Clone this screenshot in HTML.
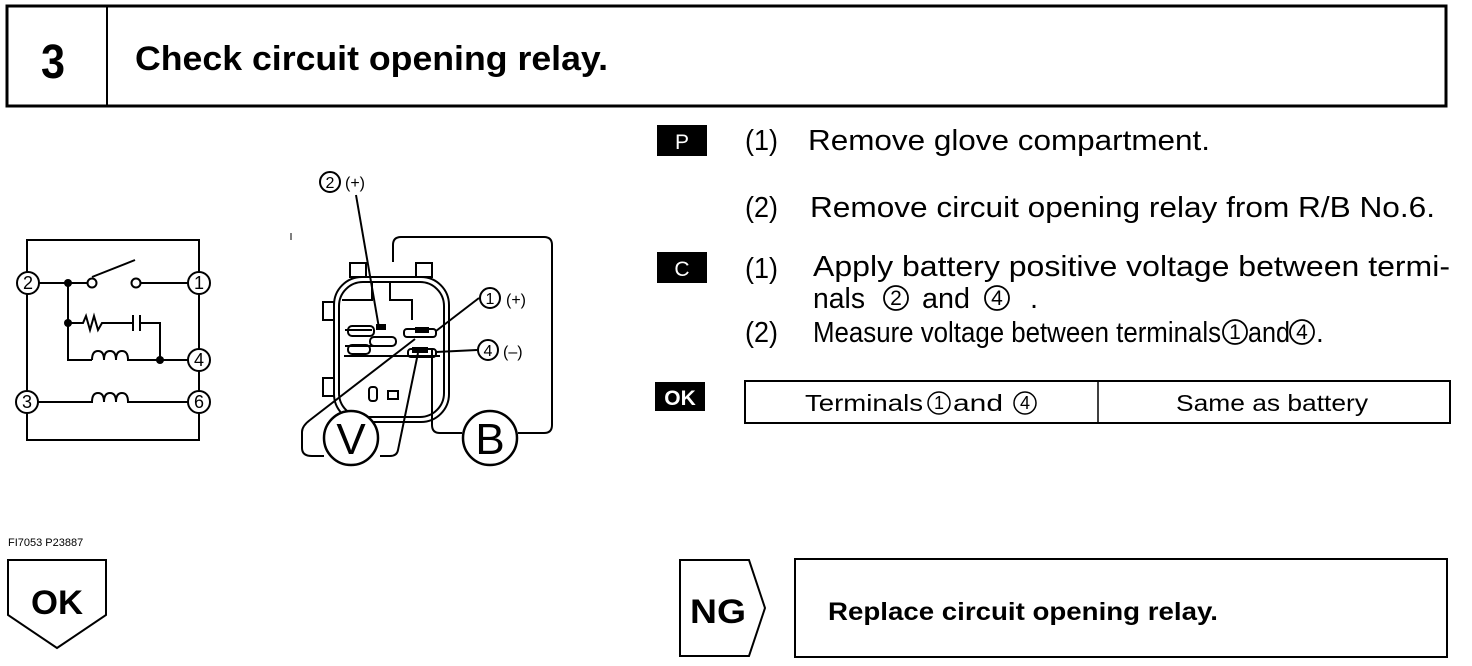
<!DOCTYPE html>
<html><head><meta charset="utf-8"><style>
html,body{margin:0;padding:0;background:#fff;}
svg{display:block;}
text{font-family:"Liberation Sans","Noto Sans CJK JP",sans-serif;fill:#000;}
</style></head><body>
<svg width="1472" height="666" viewBox="0 0 1472 666" xmlns="http://www.w3.org/2000/svg">
<rect x="7" y="6" width="1439" height="100" fill="none" stroke="#000" stroke-width="3"/>
<line x1="107" y1="6" x2="107" y2="106" stroke="#000" stroke-width="2"/>
<text x="53" y="78" font-size="48" font-weight="bold" text-anchor="middle" transform="translate(53 0) scale(0.9 1) translate(-53 0)">3</text>
<text x="135" y="70" font-size="34" font-weight="bold" textLength="473" lengthAdjust="spacingAndGlyphs">Check circuit opening relay.</text>

<g fill="none" stroke="#000" stroke-width="2">
<rect x="27" y="240" width="172" height="200"/>
<path d="M39 283 H88"/>
<circle cx="92" cy="283" r="4.5" fill="#fff"/>
<line x1="92" y1="277" x2="135" y2="260"/>
<circle cx="136" cy="283" r="4.5" fill="#fff"/>
<path d="M141 283 H188"/>
<path d="M68 283 V360 H92"/>
<path d="M68 323 H83 l3 -7 l4 14 l4 -14 l4 14 l4 -7 H132"/>
<path d="M133 315 V331 M140 315 V331"/>
<path d="M140 323 H160 V360"/>
<path d="M92 360 q0 -9 6 -9 q6 0 6 9 q0 -9 6 -9 q6 0 6 9 q0 -9 6 -9 q6 0 6 9 H188"/>
<path d="M38 402 H92 q0 -9 6 -9 q6 0 6 9 q0 -9 6 -9 q6 0 6 9 q0 -9 6 -9 q6 0 6 9 H188"/>
</g>
<circle cx="68" cy="283" r="4" fill="#000"/>
<circle cx="68" cy="323" r="4" fill="#000"/>
<circle cx="160" cy="360" r="4" fill="#000"/>
<g stroke="#000" stroke-width="2" fill="#fff">
<circle cx="28" cy="283" r="11"/><circle cx="199" cy="283" r="11"/>
<circle cx="199" cy="360" r="11"/><circle cx="27" cy="402" r="11"/>
<circle cx="199" cy="402" r="11"/>
</g>
<g font-size="18" text-anchor="middle">
<text x="28" y="289">2</text><text x="199" y="289">1</text>
<text x="199" y="366">4</text><text x="27" y="408">3</text><text x="199" y="408">6</text>
</g>

<g fill="none" stroke="#000" stroke-width="2">
<path d="M393 262 V245 q0 -8 8 -8 H544 q8 0 8 8 V425 q0 8 -8 8 H518"/>
<path d="M462 433 H440 q-8 0 -8 -8 V348"/>
<rect x="334" y="277" width="115" height="145" rx="28"/>
<rect x="339" y="282" width="105" height="135" rx="24"/>
<rect x="350" y="263" width="16" height="14"/><rect x="416" y="263" width="16" height="14"/>
<rect x="323" y="302" width="11" height="18"/><rect x="323" y="378" width="11" height="18"/>
<path d="M342 300 H372 V282 M390 282 V300 H412 V320 M345 330 H372 M345 346 H392 M344 356 H440"/>
<rect x="348" y="326" width="26" height="10" rx="4"/>
<rect x="370" y="337" width="26" height="9" rx="4"/>
<rect x="348" y="345" width="22" height="9" rx="4"/>
<rect x="404" y="329" width="32" height="8" rx="3"/>
<rect x="408" y="349" width="28" height="8" rx="3"/>
<rect x="369" y="387" width="8" height="14" rx="3"/>
<rect x="388" y="391" width="10" height="8"/>
<line x1="356" y1="195" x2="379" y2="328"/>
<line x1="436" y1="331" x2="479" y2="298"/>
<line x1="436" y1="352" x2="477" y2="350"/>
<path d="M415 339 L310 420 Q302 426 302 432 V448 q0 8 10 8 H324"/>
<path d="M418 353 L398 450 q-1 6 -8 6 H380"/>
</g>
<rect x="376" y="324" width="10" height="6" fill="#000"/>
<rect x="415" y="327" width="14" height="6" fill="#000"/>
<rect x="412" y="347" width="16" height="6" fill="#000"/>
<g stroke="#000" stroke-width="2.5" fill="#fff">
<circle cx="351" cy="438" r="27"/><circle cx="490" cy="438" r="27"/>
<circle cx="330" cy="182" r="10" stroke-width="2"/>
<circle cx="490" cy="298" r="10" stroke-width="2"/>
<circle cx="488" cy="350" r="10" stroke-width="2"/>
</g>
<text x="351" y="454" font-size="44" text-anchor="middle">V</text>
<text x="490" y="454" font-size="44" text-anchor="middle">B</text>
<g font-size="16"><text x="330" y="188" text-anchor="middle">2</text><text x="345" y="188">(+)</text>
<text x="490" y="304" text-anchor="middle">1</text><text x="506" y="305">(+)</text>
<text x="488" y="356" text-anchor="middle">4</text><text x="503" y="357">(–)</text></g>
<line x1="291" y1="233" x2="291" y2="240" stroke="#000"/>

<rect x="657" y="125" width="50" height="31" fill="#000"/>
<text x="682" y="149" font-size="21" text-anchor="middle" style="fill:#fff">P</text>
<rect x="657" y="252" width="50" height="31" fill="#000"/>
<text x="682" y="276" font-size="21" text-anchor="middle" style="fill:#fff">C</text>
<rect x="655" y="382" width="50" height="29" fill="#000"/>
<text x="680" y="405" font-size="21" font-weight="bold" text-anchor="middle" style="fill:#fff">OK</text>
<g font-size="29">
<text x="745" y="150" textLength="33" lengthAdjust="spacingAndGlyphs">(1)</text>
<text x="808" y="150" textLength="402" lengthAdjust="spacingAndGlyphs">Remove glove compartment.</text>
<text x="745" y="217" textLength="33" lengthAdjust="spacingAndGlyphs">(2)</text>
<text x="810" y="217" textLength="625" lengthAdjust="spacingAndGlyphs">Remove circuit opening relay from R/B No.6.</text>
<text x="745" y="278" textLength="33" lengthAdjust="spacingAndGlyphs">(1)</text>
<text x="813" y="276" textLength="637" lengthAdjust="spacingAndGlyphs">Apply battery positive voltage between termi-</text>
<text x="813" y="308" textLength="52" lengthAdjust="spacingAndGlyphs">nals</text><text x="922" y="308" textLength="48" lengthAdjust="spacingAndGlyphs">and</text><text x="1030" y="308">.</text>
<text x="745" y="342" textLength="33" lengthAdjust="spacingAndGlyphs">(2)</text>
<text x="813" y="342" textLength="408" lengthAdjust="spacingAndGlyphs">Measure voltage between terminals</text>
<text x="1248" y="342" textLength="42" lengthAdjust="spacingAndGlyphs">and</text>
</g>
<g fill="none" stroke="#000" stroke-width="1.8">
<circle cx="896" cy="298" r="12"/><circle cx="997" cy="298" r="12"/>
<circle cx="1235" cy="332" r="12"/><circle cx="1302" cy="332" r="12"/>
</g>
<g font-size="21" text-anchor="middle">
<text x="896" y="305">2</text><text x="997" y="305">4</text>
<text x="1235" y="339">1</text><text x="1302" y="339">4</text>
</g>
<text x="1316" y="342" font-size="28">.</text>

<rect x="745" y="381" width="705" height="42" fill="none" stroke="#000" stroke-width="2"/>
<line x1="1098" y1="381" x2="1098" y2="423" stroke="#000" stroke-width="1.5"/>
<g font-size="23"><text x="805" y="411" textLength="118" lengthAdjust="spacingAndGlyphs">Terminals</text><text x="953" y="411" textLength="50" lengthAdjust="spacingAndGlyphs">and</text>
<text x="1176" y="411" textLength="192" lengthAdjust="spacingAndGlyphs">Same as battery</text></g>
<g fill="none" stroke="#000" stroke-width="1.5"><circle cx="939" cy="403" r="11"/><circle cx="1025" cy="403" r="11"/></g>
<g font-size="18" text-anchor="middle"><text x="939" y="409">1</text><text x="1025" y="409">4</text></g>

<text x="8" y="546" font-size="11">FI7053 P23887</text>
<path d="M8 560 H106 V615 L57 648 L8 615 Z" fill="none" stroke="#000" stroke-width="2"/>
<text x="57" y="614" font-size="34" font-weight="bold" text-anchor="middle" textLength="52" lengthAdjust="spacingAndGlyphs">OK</text>
<path d="M680 560 H749 L765 608 L749 656 H680 Z" fill="none" stroke="#000" stroke-width="2"/>
<text x="718" y="623" font-size="34" font-weight="bold" text-anchor="middle" textLength="56" lengthAdjust="spacingAndGlyphs">NG</text>
<rect x="795" y="559" width="652" height="98" fill="none" stroke="#000" stroke-width="2"/>
<text x="828" y="620" font-size="25" font-weight="bold" textLength="390" lengthAdjust="spacingAndGlyphs">Replace circuit opening relay.</text>
</svg>
</body></html>
